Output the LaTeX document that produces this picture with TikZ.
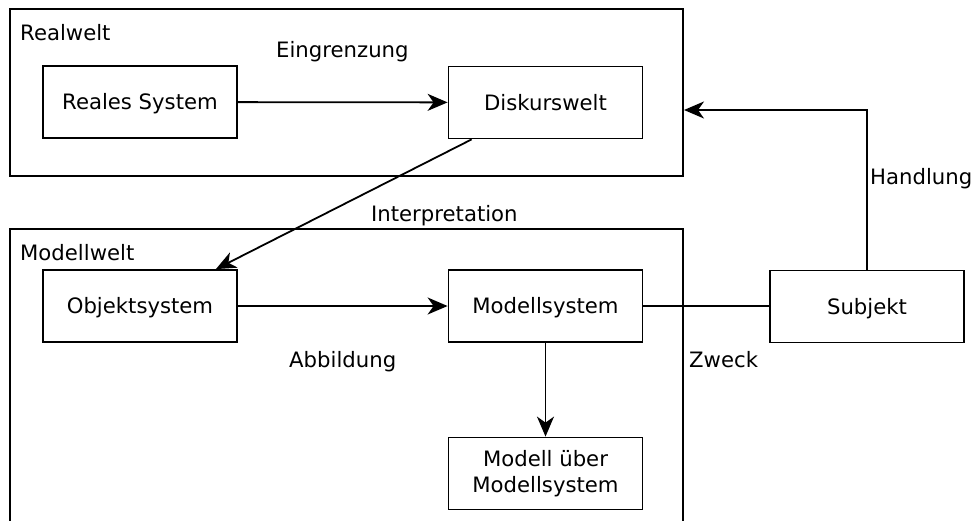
\documentclass[tikz,border=0pt]{standalone}
\usepackage{fontspec}
\setmainfont{DejaVu Sans}
\usetikzlibrary{arrows.meta,calc}
\tikzset{
  frame/.style={draw, line width=1.8pt, inner sep=0pt, rectangle},
  basebox/.style={draw, line width=1.8pt, inner sep=0pt, rectangle, minimum width=194pt, minimum height=72pt, align=center, font=\fontsize{21.2}{26}\selectfont},
  box/.style={basebox, text height=15.5pt, text depth=0.5pt},
  lbl/.style={inner sep=0pt, anchor=base west, font=\fontsize{21.2}{26}\selectfont},
  conn/.style={line width=1.8pt},
  arr/.style={conn, -{Stealth[length=20pt,width=17pt,inset=6pt]}}
}
\begin{document}
\begin{tikzpicture}[x=1pt,y=-1pt]
\useasboundingbox (0,0) rectangle (972,520);
\clip (0,0) rectangle (972,520);
% frames
\node[frame, minimum width=673pt, minimum height=167pt] (realframe) at (346.5,92.5) {};
\node[frame, minimum width=673pt, minimum height=311pt] (modframe) at (346.5,384.5) {};
% frame labels
\node[lbl] (realtxt) at (20,40) {Realwelt};
\node[lbl] (modtxt) at (20,260) {Modellwelt};
% boxes
\node[box] (reales) at (140,102) {Reales System};
\node[box] (disk) at (545.5,102.5) {Diskurswelt};
\node[box] (obj) at (140,306) {Objektsystem};
\node[box] (msys) at (545.5,306) {Modellsystem};
\node[basebox] (mueber) at (545.5,473.5) {Modell über\\Modellsystem};
\node[box] (subj) at (867,306.5) {Subjekt};
% connector labels
\node[lbl] (eing) at (276,57) {Eingrenzung};
\node[lbl] (interp) at (371,221) {Interpretation};
\node[lbl] (abb) at (289,367) {Abbildung};
\node[lbl] (zweck) at (689,367) {Zweck};
\node[lbl] (handl) at (870,184) {Handlung};
% connectors
\draw[arr] (reales) -- (disk);
\draw[arr] ($(disk.south west)+(24,0)$) -- ($(obj.north east)+(-22,0)$);
\draw[arr] (obj) -- (msys);
\draw[arr] (msys) -- (mueber);
\draw[conn] (msys.east) -- (msys.east -| subj.west);
\coordinate (hend) at (684,110);
\draw[arr] (subj.north) |- (hend);
\end{tikzpicture}
\end{document}
